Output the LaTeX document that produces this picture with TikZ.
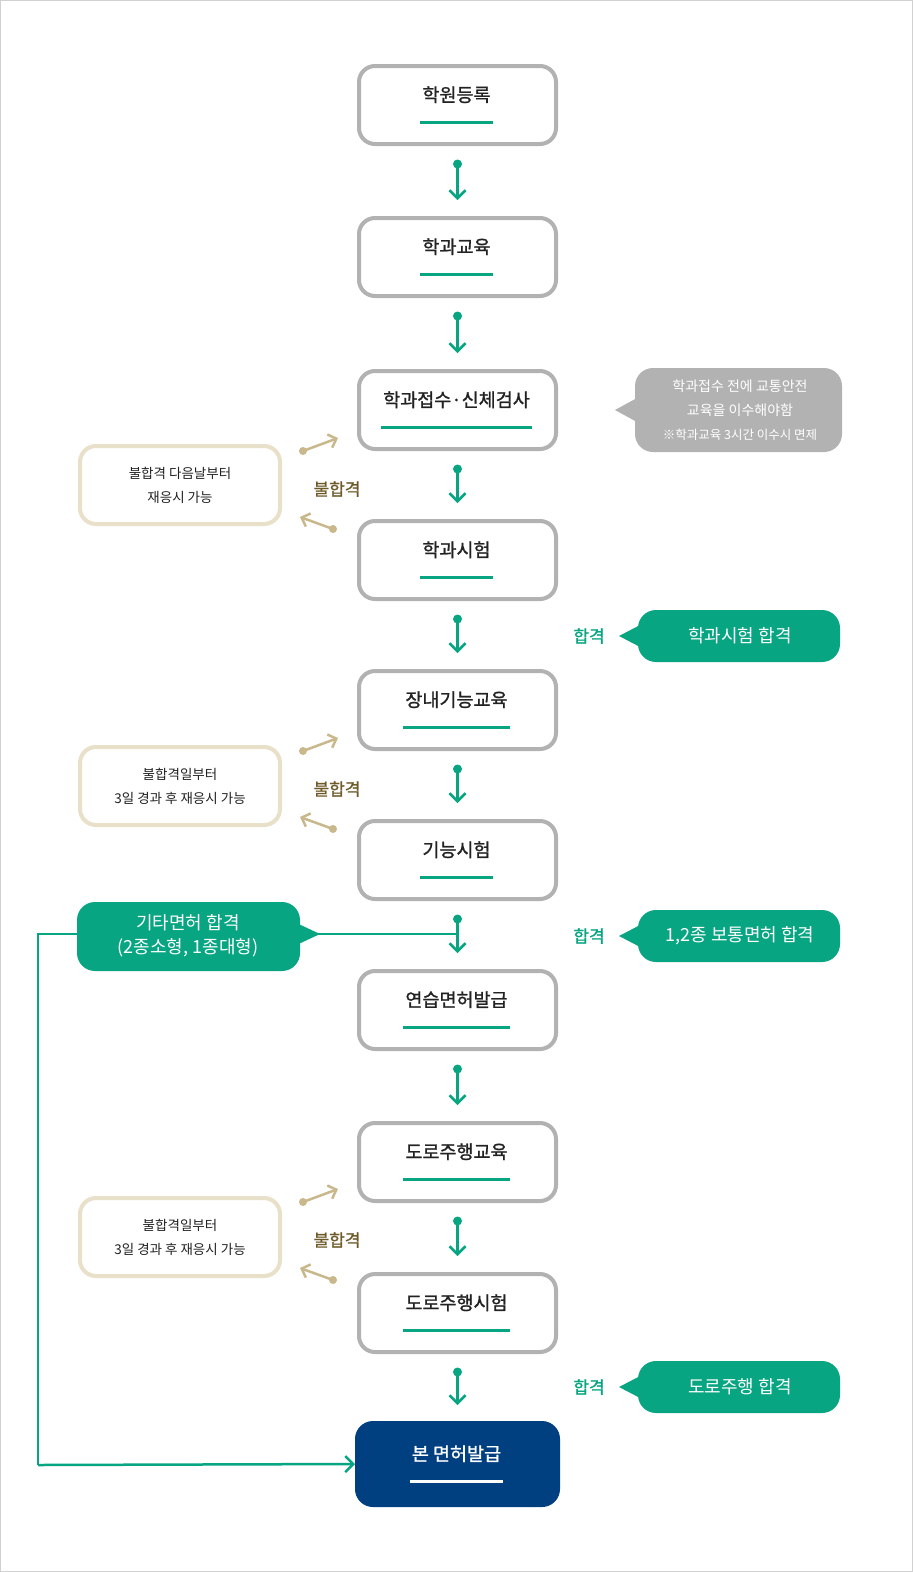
\documentclass[tikz,border=0pt]{standalone}
\usepackage{fontspec}
\setmainfont{Noto Sans CJK KR}[FakeBold=1.2]
\newfontfamily\reg{Noto Sans CJK KR}
\usetikzlibrary{arrows.meta}
\definecolor{grn}{RGB}{8,165,130}
\definecolor{gbd}{RGB}{178,178,178}
\definecolor{bge}{RGB}{232,224,200}
\definecolor{brn}{RGB}{200,184,140}
\definecolor{brt}{RGB}{110,90,40}
\definecolor{nvy}{RGB}{0,64,128}
\definecolor{txt}{RGB}{34,34,34}
\newcommand\ulbl[2][grn]{\setbox0\hbox{#2}\vbox{\copy0\kern2pt\hbox{\kern-2pt\textcolor{#1}{\rule{\dimexpr\wd0+4pt}{3pt}}}}}
\tikzset{
 mainbox/.style={draw=gbd,line width=4pt,rounded corners=16pt,fill=white,minimum width=197pt,minimum height=78pt,font=\fontsize{18.5}{20}\selectfont,text=txt,inner sep=0pt},
 failbox/.style={draw=bge,line width=4pt,rounded corners=16pt,fill=white,minimum width=200pt,minimum height=78pt,font=\reg\fontsize{13.5}{24}\selectfont,text=txt,align=center},
 flow/.style={draw=grn,line width=2.5pt,-{Straight Barb[length=8pt,width=16pt,line width=2.5pt]}},
 bflow/.style={draw=brn,line width=2.5pt,-{Straight Barb[length=7pt,width=14pt,line width=2.5pt]}},
 lbl/.style={font=\fontsize{17}{18}\selectfont},
}
\begin{document}
\begin{tikzpicture}[x=1pt,y=-1pt]
\draw[fill=white,draw=gbd!60] (0.5,0.5) rectangle (912.5,1571.5);
\useasboundingbox (0,0) rectangle (913,1572);
% main boxes
\node[mainbox] (b1) at (457.5,105) {\ulbl{학원등록}};
\node[mainbox] (b2) at (457.5,257) {\ulbl{학과교육}};
\node[mainbox] (b3) at (457.5,410) {\ulbl{학과접수·신체검사}};
\node[mainbox] (b4) at (457.5,560) {\ulbl{학과시험}};
\node[mainbox] (b5) at (457.5,710) {\ulbl{장내기능교육}};
\node[mainbox] (b6) at (457.5,860) {\ulbl{기능시험}};
\node[mainbox] (b7) at (457.5,1010) {\ulbl{연습면허발급}};
\node[mainbox] (b8) at (457.5,1162) {\ulbl{도로주행교육}};
\node[mainbox] (b9) at (457.5,1313) {\ulbl{도로주행시험}};
\node[mainbox,draw=nvy,fill=nvy,text=white,minimum height=82pt,minimum width=201pt] (b10) at (457.5,1464) {\ulbl[white]{본 면허발급}};
% flow arrows
\foreach \a/\b in {b1/b2,b2/b3,b3/b4,b4/b5,b5/b6,b6/b7,b7/b8,b8/b9,b9/b10}{
  \coordinate (s) at ([yshift=-18pt]\a.south);
  \coordinate (e) at ([yshift=16pt]\b.north);
  \fill[grn] (s) circle (4.5pt);
  \draw[flow] (s) -- (e);
}
% fail boxes
\node[failbox] (f1) at (180,485) {불합격 다음날부터\\재응시 가능};
\node[failbox] (f2) at (180,786) {불합격일부터\\3일 경과 후 재응시 가능};
\node[failbox] (f3) at (180,1237) {불합격일부터\\3일 경과 후 재응시 가능};
\foreach \f/\y in {f1/489,f2/789,f3/1240}{
  \node[lbl,text=brt] (n\f) at (337,\y) {불합격};
  \fill[brn] (303,\y-38) circle (4pt);
  \draw[bflow] (303,\y-38) -- (338,\y-51);
  \fill[brn] (333,\y+40) circle (4pt);
  \draw[bflow] (333,\y+40) -- (300,\y+28);
}
% gray callout
\fill[gbd,rounded corners=18pt] (635,368) rectangle (842,452);
\fill[gbd] (637,398) -- (615,410) -- (637,422) -- cycle;
\node[text=white,align=center,font=\reg\fontsize{14}{24}\selectfont] (gc) at (740,410) {학과접수 전에 교통안전\\교육을 이수해야함\\{\fontsize{12.5}{20}\selectfont ※학과교육 3시간 이수시 면제}};
% green callouts right
\foreach \y/\t/\nm in {636/학과시험 합격/g1,936/{1,2종 보통면허 합격}/g2,1387/도로주행 합격/g3}{
  \fill[grn,rounded corners=18pt] (638,\y-26) rectangle (840,\y+26);
  \fill[grn] (642,\y-12) -- (619,\y) -- (642,\y+12) -- cycle;
  \node[text=white,lbl,font=\reg\fontsize{18}{18}\selectfont] (\nm) at (740,\y) {\t};
  \node[text=grn,lbl] (h\nm) at (589,\y) {합격};
}
% left green callout and bypass
\coordinate (j) at (457.5,934);
\coordinate (c1) at (38,934);
\coordinate (c2) at (38,1465);
\draw[grn,line width=2.5pt] (j) -- (c1) -- (c2);
\draw[flow] (c2) -- (b10.west);
\fill[grn,rounded corners=18pt] (77,902) rectangle (300,971);
\fill[grn] (290,920) -- (320,934) -- (290,948) -- cycle;
\node[text=white,align=center,font=\reg\fontsize{18}{24}\selectfont] (g4) at (188,936) {기타면허 합격\\(2종소형, 1종대형)};
\end{tikzpicture}
\end{document}
